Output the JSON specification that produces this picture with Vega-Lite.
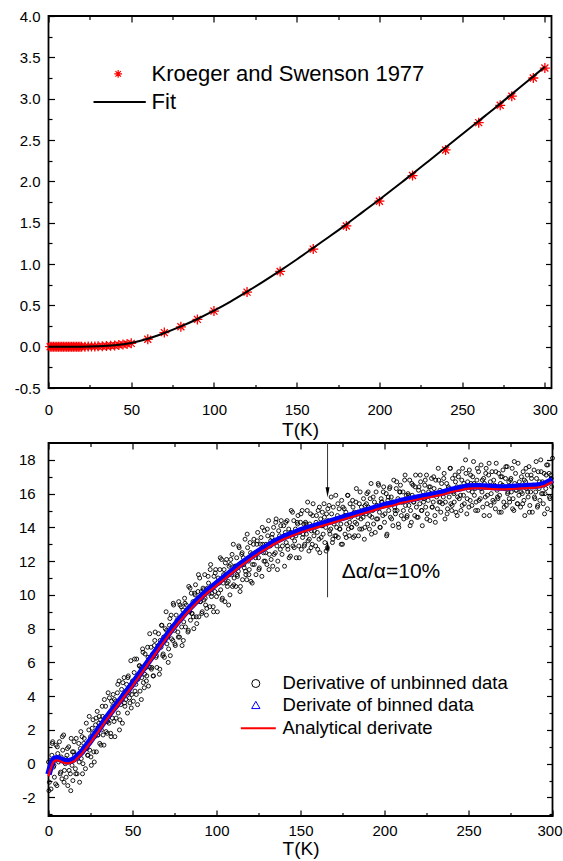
{
"$schema": "https://vega.github.io/schema/vega-lite/v6.json",
"background": "white",
"padding": {"left": 12.5, "top": 8, "right": 0, "bottom": 0},
"spacing": 0,
"config": {
 "font": "Liberation Sans",
 "view": {"stroke": "#000000", "strokeWidth": 1.8},
 "axis": {"domain": false, "grid": false, "labelFont": "Liberation Sans", "labelFontSize": 15, "labelColor": "#000000", "tickColor": "#000000", "tickWidth": 1.2, "titleFont": "Liberation Sans", "titleFontSize": 19, "titleFontWeight": "normal", "titleColor": "#000000", "labelFlush": false, "labelOverlap": false},
 "text": {"font": "Liberation Sans", "color": "#000000"}
},
"datasets": {
 "kroeger": [{"t":1,"v":0},{"t":2,"v":0},{"t":3,"v":0},{"t":4,"v":0},{"t":5,"v":0},{"t":6,"v":0},{"t":7,"v":0},{"t":8,"v":0},{"t":9,"v":0},{"t":10,"v":0},{"t":11,"v":0},{"t":12,"v":0},{"t":13,"v":0},{"t":14,"v":0},{"t":15,"v":0},{"t":16,"v":0},{"t":17,"v":0},{"t":18,"v":0},{"t":19,"v":0},{"t":20,"v":0},{"t":22,"v":0},{"t":24,"v":0.001},{"t":26,"v":0.002},{"t":28,"v":0.003},{"t":30,"v":0.004},{"t":32.5,"v":0.006},{"t":35,"v":0.008},{"t":37.5,"v":0.011},{"t":40,"v":0.015},{"t":42.5,"v":0.02},{"t":45,"v":0.026},{"t":47.5,"v":0.033},{"t":50,"v":0.04},{"t":60,"v":0.09},{"t":70,"v":0.17},{"t":80,"v":0.24},{"t":90,"v":0.33},{"t":100,"v":0.43},{"t":120,"v":0.66},{"t":140,"v":0.91},{"t":160,"v":1.18},{"t":180,"v":1.46},{"t":200,"v":1.76},{"t":220,"v":2.07},{"t":240,"v":2.38},{"t":260,"v":2.71},{"t":273,"v":2.92},{"t":280,"v":3.03},{"t":293,"v":3.25},{"t":300,"v":3.37}],
 "fit": [{"t":0,"f":0},{"t":10,"f":0},{"t":20,"f":0.0005},{"t":30,"f":0.004},{"t":40,"f":0.016},{"t":50,"f":0.045},{"t":60,"f":0.095},{"t":70,"f":0.165},{"t":80,"f":0.245},{"t":90,"f":0.335},{"t":100,"f":0.435},{"t":110,"f":0.545},{"t":120,"f":0.665},{"t":130,"f":0.79},{"t":140,"f":0.92},{"t":150,"f":1.055},{"t":160,"f":1.195},{"t":170,"f":1.335},{"t":180,"f":1.48},{"t":190,"f":1.63},{"t":200,"f":1.78},{"t":210,"f":1.935},{"t":220,"f":2.09},{"t":230,"f":2.25},{"t":240,"f":2.41},{"t":250,"f":2.57},{"t":260,"f":2.73},{"t":270,"f":2.89},{"t":280,"f":3.055},{"t":290,"f":3.22},{"t":300,"f":3.385}],
 "curve": [{"t":0,"a":-0.75,"b":-0.63},{"t":1,"a":-0.4,"b":-0.28},{"t":2,"a":-0.1,"b":0.02},{"t":3,"a":0.1,"b":0.22},{"t":4,"a":0.18,"b":0.3},{"t":5,"a":0.2,"b":0.32},{"t":6,"a":0.18,"b":0.3},{"t":8,"a":0.1,"b":0.22},{"t":10,"a":0.03,"b":0.15},{"t":12,"a":0.02,"b":0.14},{"t":14,"a":0.08,"b":0.2},{"t":16,"a":0.2,"b":0.32},{"t":18,"a":0.4,"b":0.52},{"t":20,"a":0.6,"b":0.72},{"t":22,"a":0.86,"b":0.98},{"t":25,"a":1.25,"b":1.37},{"t":30,"a":1.95,"b":2.07},{"t":35,"a":2.65,"b":2.77},{"t":40,"a":3.3,"b":3.42},{"t":45,"a":3.95,"b":4.07},{"t":50,"a":4.6,"b":4.72},{"t":55,"a":5.3,"b":5.42},{"t":60,"a":6.0,"b":6.12},{"t":65,"a":6.7,"b":6.82},{"t":70,"a":7.4,"b":7.52},{"t":75,"a":8.05,"b":8.17},{"t":80,"a":8.65,"b":8.77},{"t":85,"a":9.2,"b":9.32},{"t":90,"a":9.7,"b":9.82},{"t":95,"a":10.15,"b":10.27},{"t":100,"a":10.55,"b":10.67},{"t":105,"a":10.95,"b":11.07},{"t":110,"a":11.35,"b":11.47},{"t":115,"a":11.75,"b":11.87},{"t":120,"a":12.1,"b":12.22},{"t":125,"a":12.45,"b":12.57},{"t":130,"a":12.75,"b":12.87},{"t":135,"a":13.05,"b":13.17},{"t":140,"a":13.3,"b":13.42},{"t":145,"a":13.5,"b":13.62},{"t":150,"a":13.7,"b":13.82},{"t":155,"a":13.85,"b":13.97},{"t":160,"a":14.0,"b":14.12},{"t":165,"a":14.15,"b":14.27},{"t":170,"a":14.3,"b":14.42},{"t":175,"a":14.45,"b":14.57},{"t":180,"a":14.6,"b":14.72},{"t":185,"a":14.75,"b":14.87},{"t":190,"a":14.9,"b":15.02},{"t":195,"a":15.05,"b":15.17},{"t":200,"a":15.2,"b":15.32},{"t":205,"a":15.3,"b":15.42},{"t":210,"a":15.45,"b":15.57},{"t":215,"a":15.55,"b":15.67},{"t":220,"a":15.65,"b":15.77},{"t":225,"a":15.75,"b":15.87},{"t":230,"a":15.85,"b":15.97},{"t":235,"a":15.95,"b":16.07},{"t":240,"a":16.1,"b":16.22},{"t":245,"a":16.2,"b":16.32},{"t":250,"a":16.3,"b":16.42},{"t":255,"a":16.32,"b":16.44},{"t":260,"a":16.3,"b":16.42},{"t":265,"a":16.27,"b":16.39},{"t":270,"a":16.25,"b":16.37},{"t":275,"a":16.27,"b":16.39},{"t":280,"a":16.3,"b":16.42},{"t":285,"a":16.33,"b":16.45},{"t":290,"a":16.35,"b":16.47},{"t":295,"a":16.45,"b":16.57},{"t":300,"a":16.7,"b":16.82}],
 "unbinned": [{"t":0,"v":0.1},{"t":0.5,"v":-1.1},{"t":1,"v":-0.2},{"t":1.5,"v":-1.5},{"t":2,"v":0.5},{"t":2.5,"v":1.3},{"t":3,"v":-0.2},{"t":3.5,"v":-0.8},{"t":4,"v":0.3},{"t":4.5,"v":1.1},{"t":5,"v":-1.3},{"t":5.5,"v":0.6},{"t":6,"v":0.1},{"t":6.5,"v":1.3},{"t":7,"v":-0.6},{"t":7.5,"v":0.4},{"t":8,"v":-0.9},{"t":8.5,"v":0.8},{"t":9,"v":1.7},{"t":9.5,"v":-0.4},{"t":10,"v":0},{"t":10.5,"v":-0.8},{"t":11,"v":0.5},{"t":11.5,"v":-1.3},{"t":12,"v":1},{"t":12.5,"v":0.2},{"t":13,"v":-0.6},{"t":13.5,"v":1.5},{"t":14,"v":-0.1},{"t":14.5,"v":-1},{"t":15,"v":0.7},{"t":15.5,"v":0.5},{"t":16,"v":-0.3},{"t":16.5,"v":1.5},{"t":17,"v":-0.6},{"t":17.5,"v":0.5},{"t":18,"v":1.2},{"t":18.5,"v":-1.1},{"t":19,"v":0.9},{"t":19.5,"v":0.3},{"t":20,"v":1.6},{"t":20.5,"v":0},{"t":21,"v":1.2},{"t":21.5,"v":1},{"t":22,"v":-0.3},{"t":22.5,"v":2.4},{"t":23,"v":0.9},{"t":23.5,"v":0.5},{"t":24,"v":2},{"t":24.5,"v":0.8},{"t":25,"v":1.6},{"t":25.5,"v":-0.1},{"t":26,"v":2.1},{"t":26.5,"v":2.6},{"t":27,"v":0.7},{"t":27.5,"v":1.6},{"t":28,"v":2.3},{"t":28.5,"v":0.7},{"t":29,"v":3.1},{"t":29.5,"v":1.7},{"t":30,"v":2.4},{"t":30.5,"v":1.2},{"t":31,"v":2.6},{"t":31.5,"v":2.0},{"t":32,"v":3.4},{"t":32.5,"v":1.7},{"t":33,"v":1.1},{"t":33.5,"v":2.7},{"t":34,"v":3.4},{"t":34.5,"v":2.5},{"t":35,"v":1.8},{"t":35.5,"v":4.2},{"t":36,"v":2.4},{"t":36.5,"v":3.0},{"t":37,"v":1.8},{"t":37.5,"v":3.7},{"t":38,"v":2.7},{"t":38.5,"v":4.1},{"t":39,"v":2.5},{"t":39.5,"v":1.6},{"t":40,"v":3.7},{"t":40.5,"v":3.4},{"t":41,"v":4.2},{"t":41.5,"v":3.0},{"t":42,"v":4.9},{"t":42.5,"v":2.6},{"t":43,"v":3.5},{"t":43.5,"v":4.4},{"t":44,"v":2.4},{"t":44.5,"v":4.1},{"t":45,"v":5.1},{"t":45.5,"v":3.4},{"t":46,"v":3.8},{"t":46.5,"v":4.7},{"t":47,"v":3.0},{"t":47.5,"v":5.2},{"t":48,"v":4.2},{"t":48.5,"v":3.6},{"t":49,"v":6.1},{"t":49.5,"v":4.1},{"t":50,"v":4.9},{"t":50.5,"v":3.7},{"t":51,"v":5.4},{"t":51.5,"v":4.3},{"t":52,"v":4.7},{"t":52.5,"v":6.2},{"t":53,"v":3.5},{"t":53.5,"v":5.2},{"t":54,"v":5.8},{"t":54.5,"v":4.3},{"t":55,"v":5.7},{"t":55.5,"v":5.1},{"t":56,"v":6.8},{"t":56.5,"v":4.8},{"t":57,"v":4.5},{"t":57.5,"v":6.5},{"t":58,"v":5.7},{"t":58.5,"v":5.2},{"t":59,"v":6.9},{"t":59.5,"v":4.6},{"t":60,"v":6.2},{"t":60.5,"v":5.7},{"t":61,"v":6.9},{"t":61.5,"v":5.7},{"t":62,"v":6.5},{"t":62.5,"v":5.2},{"t":63,"v":7.0},{"t":63.5,"v":7.8},{"t":64,"v":6.3},{"t":64.5,"v":5.7},{"t":65,"v":6.8},{"t":65.5,"v":7.7},{"t":66,"v":5.3},{"t":66.5,"v":7.3},{"t":67,"v":6.9},{"t":67.5,"v":8.2},{"t":68,"v":6.4},{"t":68.5,"v":7.5},{"t":69,"v":6.3},{"t":69.5,"v":8.0},{"t":70,"v":9.0},{"t":70.5,"v":7.1},{"t":71,"v":7.5},{"t":71.5,"v":6.8},{"t":72,"v":8.2},{"t":72.5,"v":6.4},{"t":73,"v":8.8},{"t":73.5,"v":8.1},{"t":74,"v":7.3},{"t":74.5,"v":9.4},{"t":75,"v":7.9},{"t":75.5,"v":7.0},{"t":76,"v":8.8},{"t":76.5,"v":8.5},{"t":77,"v":7.8},{"t":77.5,"v":9.6},{"t":78,"v":7.5},{"t":78.5,"v":8.6},{"t":79,"v":9.3},{"t":79.5,"v":7.0},{"t":80,"v":9.1},{"t":80.5,"v":8.4},{"t":81,"v":9.8},{"t":81.5,"v":8.1},{"t":82,"v":9.4},{"t":82.5,"v":9.1},{"t":83,"v":7.8},{"t":83.5,"v":10.5},{"t":84,"v":9.0},{"t":84.5,"v":8.5},{"t":85,"v":10.1},{"t":85.5,"v":8.9},{"t":86,"v":9.6},{"t":86.5,"v":8.0},{"t":87,"v":10.1},{"t":87.5,"v":10.6},{"t":88,"v":8.7},{"t":88.5,"v":9.6},{"t":89,"v":10.2},{"t":89.5,"v":8.7},{"t":90,"v":11.0},{"t":90.5,"v":9.6},{"t":91,"v":10.2},{"t":91.5,"v":9.0},{"t":92,"v":10.4},{"t":92.5,"v":9.7},{"t":93,"v":11.2},{"t":93.5,"v":9.4},{"t":94,"v":8.8},{"t":94.5,"v":10.4},{"t":95,"v":11.1},{"t":95.5,"v":10.1},{"t":96,"v":9.3},{"t":96.5,"v":11.8},{"t":97,"v":9.9},{"t":97.5,"v":10.5},{"t":98,"v":9.3},{"t":98.5,"v":11.1},{"t":99,"v":10.2},{"t":99.5,"v":11.5},{"t":100,"v":9.9},{"t":100.5,"v":9.0},{"t":101,"v":11.0},{"t":101.5,"v":10.7},{"t":102,"v":11.5},{"t":102.5,"v":10.3},{"t":103,"v":12.1},{"t":103.5,"v":9.8},{"t":104,"v":10.7},{"t":104.5,"v":11.5},{"t":105,"v":9.6},{"t":105.5,"v":11.2},{"t":106,"v":12.1},{"t":106.5,"v":10.5},{"t":107,"v":10.8},{"t":107.5,"v":11.7},{"t":108,"v":10.0},{"t":108.5,"v":12.1},{"t":109,"v":11.2},{"t":109.5,"v":10.5},{"t":110,"v":13.0},{"t":110.5,"v":11.0},{"t":111,"v":11.7},{"t":111.5,"v":10.5},{"t":112,"v":12.2},{"t":112.5,"v":11.1},{"t":113,"v":11.4},{"t":113.5,"v":12.8},{"t":114,"v":10.2},{"t":114.5,"v":11.8},{"t":115,"v":12.4},{"t":115.5,"v":10.9},{"t":116,"v":12.2},{"t":116.5,"v":11.6},{"t":117,"v":13.3},{"t":117.5,"v":11.2},{"t":118,"v":10.9},{"t":118.5,"v":12.8},{"t":119,"v":12.0},{"t":119.5,"v":11.5},{"t":120,"v":13.1},{"t":120.5,"v":10.8},{"t":121,"v":12.4},{"t":121.5,"v":11.8},{"t":122,"v":13.0},{"t":122.5,"v":11.8},{"t":123,"v":12.5},{"t":123.5,"v":11.2},{"t":124,"v":13.0},{"t":124.5,"v":13.7},{"t":125,"v":12.2},{"t":125.5,"v":11.6},{"t":126,"v":12.6},{"t":126.5,"v":13.4},{"t":127,"v":11.1},{"t":127.5,"v":13.0},{"t":128,"v":12.5},{"t":128.5,"v":13.8},{"t":129,"v":12.0},{"t":129.5,"v":13.0},{"t":130,"v":11.8},{"t":130.5,"v":13.5},{"t":131,"v":14.4},{"t":131.5,"v":12.4},{"t":132,"v":12.9},{"t":132.5,"v":12.1},{"t":133,"v":13.4},{"t":133.5,"v":11.7},{"t":134,"v":14.0},{"t":134.5,"v":13.2},{"t":135,"v":12.5},{"t":135.5,"v":14.5},{"t":136,"v":12.9},{"t":136.5,"v":12.0},{"t":137,"v":13.8},{"t":137.5,"v":13.5},{"t":138,"v":12.7},{"t":138.5,"v":14.4},{"t":139,"v":12.4},{"t":139.5,"v":13.4},{"t":140,"v":14.1},{"t":140.5,"v":11.7},{"t":141,"v":13.7},{"t":141.5,"v":13.1},{"t":142,"v":14.4},{"t":142.5,"v":12.7},{"t":143,"v":13.9},{"t":143.5,"v":13.6},{"t":144,"v":12.3},{"t":144.5,"v":15.0},{"t":145,"v":13.4},{"t":145.5,"v":12.9},{"t":146,"v":14.4},{"t":146.5,"v":13.2},{"t":147,"v":13.9},{"t":147.5,"v":12.2},{"t":148,"v":14.3},{"t":148.5,"v":14.7},{"t":149,"v":12.9},{"t":149.5,"v":13.7},{"t":150,"v":14.3},{"t":150.5,"v":12.7},{"t":151,"v":15.0},{"t":151.5,"v":13.6},{"t":152,"v":14.2},{"t":152.5,"v":13.0},{"t":153,"v":14.3},{"t":153.5,"v":13.6},{"t":154,"v":15.0},{"t":154.5,"v":13.2},{"t":155,"v":12.6},{"t":155.5,"v":14.2},{"t":156,"v":14.8},{"t":156.5,"v":13.8},{"t":157,"v":13.0},{"t":157.5,"v":15.4},{"t":158,"v":13.5},{"t":158.5,"v":14.1},{"t":159,"v":12.9},{"t":159.5,"v":14.7},{"t":160,"v":13.7},{"t":160.5,"v":15.0},{"t":161,"v":13.3},{"t":161.5,"v":12.5},{"t":162,"v":14.5},{"t":162.5,"v":14.1},{"t":163,"v":14.9},{"t":163.5,"v":13.6},{"t":164,"v":15.4},{"t":164.5,"v":13.1},{"t":165,"v":14.0},{"t":165.5,"v":14.8},{"t":166,"v":12.8},{"t":166.5,"v":14.4},{"t":167,"v":15.3},{"t":167.5,"v":13.6},{"t":168,"v":13.9},{"t":168.5,"v":14.8},{"t":169,"v":13.1},{"t":169.5,"v":15.2},{"t":170,"v":14.2},{"t":170.5,"v":13.5},{"t":171,"v":15.9},{"t":171.5,"v":14.0},{"t":172,"v":14.7},{"t":172.5,"v":13.4},{"t":173,"v":15.1},{"t":173.5,"v":13.9},{"t":174,"v":14.2},{"t":174.5,"v":15.6},{"t":175,"v":13.0},{"t":175.5,"v":14.6},{"t":176,"v":15.1},{"t":176.5,"v":13.6},{"t":177,"v":14.9},{"t":177.5,"v":14.2},{"t":178,"v":15.9},{"t":178.5,"v":13.9},{"t":179,"v":13.5},{"t":179.5,"v":15.4},{"t":180,"v":14.6},{"t":180.5,"v":14.0},{"t":181,"v":15.6},{"t":181.5,"v":13.4},{"t":182,"v":14.9},{"t":182.5,"v":14.3},{"t":183,"v":15.5},{"t":183.5,"v":14.2},{"t":184,"v":14.9},{"t":184.5,"v":13.5},{"t":185,"v":15.4},{"t":185.5,"v":16.1},{"t":186,"v":14.5},{"t":186.5,"v":13.9},{"t":187,"v":14.9},{"t":187.5,"v":15.7},{"t":188,"v":13.3},{"t":188.5,"v":15.3},{"t":189,"v":14.8},{"t":189.5,"v":16.0},{"t":190,"v":14.2},{"t":190.5,"v":15.2},{"t":191,"v":13.9},{"t":191.5,"v":15.7},{"t":192,"v":16.6},{"t":192.5,"v":14.6},{"t":193,"v":15.0},{"t":193.5,"v":14.2},{"t":194,"v":15.5},{"t":194.5,"v":13.7},{"t":195,"v":16.1},{"t":195.5,"v":15.3},{"t":196,"v":14.5},{"t":196.5,"v":16.5},{"t":197,"v":14.9},{"t":197.5,"v":14.0},{"t":198,"v":15.7},{"t":198.5,"v":15.5},{"t":199,"v":14.7},{"t":199.5,"v":16.4},{"t":200,"v":14.3},{"t":200.5,"v":15.3},{"t":201,"v":16.0},{"t":201.5,"v":13.6},{"t":202,"v":15.6},{"t":202.5,"v":15.0},{"t":203,"v":16.3},{"t":203.5,"v":14.6},{"t":204,"v":15.8},{"t":204.5,"v":15.5},{"t":205,"v":14.1},{"t":205.5,"v":16.8},{"t":206,"v":15.2},{"t":206.5,"v":14.8},{"t":207,"v":16.3},{"t":207.5,"v":15.0},{"t":208,"v":15.7},{"t":208.5,"v":14.0},{"t":209,"v":16.1},{"t":209.5,"v":16.5},{"t":210,"v":14.7},{"t":210.5,"v":15.5},{"t":211,"v":16.1},{"t":211.5,"v":14.5},{"t":212,"v":16.8},{"t":212.5,"v":15.3},{"t":213,"v":15.9},{"t":213.5,"v":14.7},{"t":214,"v":16.0},{"t":214.5,"v":15.3},{"t":215,"v":16.8},{"t":215.5,"v":15.0},{"t":216,"v":14.3},{"t":216.5,"v":15.9},{"t":217,"v":16.5},{"t":217.5,"v":15.5},{"t":218,"v":14.7},{"t":218.5,"v":17.1},{"t":219,"v":15.2},{"t":219.5,"v":15.7},{"t":220,"v":14.6},{"t":220.5,"v":16.4},{"t":221,"v":15.4},{"t":221.5,"v":16.7},{"t":222,"v":15.0},{"t":222.5,"v":14.1},{"t":223,"v":16.1},{"t":223.5,"v":15.7},{"t":224,"v":16.5},{"t":224.5,"v":15.2},{"t":225,"v":17.1},{"t":225.5,"v":14.8},{"t":226,"v":15.6},{"t":226.5,"v":16.4},{"t":227,"v":14.4},{"t":227.5,"v":16.0},{"t":228,"v":16.9},{"t":228.5,"v":15.2},{"t":229,"v":15.5},{"t":229.5,"v":16.3},{"t":230,"v":14.7},{"t":230.5,"v":16.8},{"t":231,"v":15.8},{"t":231.5,"v":15.1},{"t":232,"v":17.5},{"t":232.5,"v":15.5},{"t":233,"v":16.2},{"t":233.5,"v":14.9},{"t":234,"v":16.6},{"t":234.5,"v":15.4},{"t":235,"v":15.8},{"t":235.5,"v":17.2},{"t":236,"v":14.5},{"t":236.5,"v":16.1},{"t":237,"v":16.6},{"t":237.5,"v":15.1},{"t":238,"v":16.4},{"t":238.5,"v":15.8},{"t":239,"v":17.5},{"t":239.5,"v":15.4},{"t":240,"v":15.0},{"t":240.5,"v":16.9},{"t":241,"v":16.1},{"t":241.5,"v":15.5},{"t":242,"v":17.1},{"t":242.5,"v":14.9},{"t":243,"v":16.4},{"t":243.5,"v":15.8},{"t":244,"v":17.0},{"t":244.5,"v":15.7},{"t":245,"v":16.4},{"t":245.5,"v":15.0},{"t":246,"v":16.8},{"t":246.5,"v":17.5},{"t":247,"v":15.9},{"t":247.5,"v":15.4},{"t":248,"v":16.4},{"t":248.5,"v":17.2},{"t":249,"v":14.8},{"t":249.5,"v":16.7},{"t":250,"v":16.2},{"t":250.5,"v":17.4},{"t":251,"v":15.6},{"t":251.5,"v":16.6},{"t":252,"v":15.3},{"t":252.5,"v":17.0},{"t":253,"v":17.9},{"t":253.5,"v":15.9},{"t":254,"v":16.3},{"t":254.5,"v":15.5},{"t":255,"v":16.8},{"t":255.5,"v":15.0},{"t":256,"v":17.3},{"t":256.5,"v":16.5},{"t":257,"v":15.7},{"t":257.5,"v":17.7},{"t":258,"v":16.1},{"t":258.5,"v":15.2},{"t":259,"v":16.9},{"t":259.5,"v":16.6},{"t":260,"v":15.8},{"t":260.5,"v":17.5},{"t":261,"v":15.4},{"t":261.5,"v":16.4},{"t":262,"v":17.1},{"t":262.5,"v":14.7},{"t":263,"v":16.7},{"t":263.5,"v":16.0},{"t":264,"v":17.3},{"t":264.5,"v":15.6},{"t":265,"v":16.8},{"t":265.5,"v":16.5},{"t":266,"v":15.1},{"t":266.5,"v":17.8},{"t":267,"v":16.2},{"t":267.5,"v":15.7},{"t":268,"v":17.2},{"t":268.5,"v":15.9},{"t":269,"v":16.6},{"t":269.5,"v":14.9},{"t":270,"v":17.0},{"t":270.5,"v":17.4},{"t":271,"v":15.5},{"t":271.5,"v":16.3},{"t":272,"v":16.9},{"t":272.5,"v":15.3},{"t":273,"v":17.6},{"t":273.5,"v":16.1},{"t":274,"v":16.7},{"t":274.5,"v":15.5},{"t":275,"v":16.8},{"t":275.5,"v":16.1},{"t":276,"v":17.5},{"t":276.5,"v":15.7},{"t":277,"v":15.0},{"t":277.5,"v":16.6},{"t":278,"v":17.2},{"t":278.5,"v":16.2},{"t":279,"v":15.4},{"t":279.5,"v":17.8},{"t":280,"v":15.9},{"t":280.5,"v":16.4},{"t":281,"v":15.2},{"t":281.5,"v":17.0},{"t":282,"v":16.0},{"t":282.5,"v":17.3},{"t":283,"v":15.6},{"t":283.5,"v":14.7},{"t":284,"v":16.7},{"t":284.5,"v":16.3},{"t":285,"v":17.1},{"t":285.5,"v":15.8},{"t":286,"v":17.6},{"t":286.5,"v":15.3},{"t":287,"v":16.1},{"t":287.5,"v":16.9},{"t":288,"v":14.9},{"t":288.5,"v":16.5},{"t":289,"v":17.4},{"t":289.5,"v":15.7},{"t":290,"v":16.1},{"t":290.5,"v":16.9},{"t":291,"v":15.2},{"t":291.5,"v":17.3},{"t":292,"v":16.3},{"t":292.5,"v":15.6},{"t":293,"v":18.0},{"t":293.5,"v":16.0},{"t":294,"v":16.7},{"t":294.5,"v":15.4},{"t":295,"v":17.2},{"t":295.5,"v":16.0},{"t":296,"v":16.3},{"t":296.5,"v":17.7},{"t":297,"v":15.1},{"t":297.5,"v":16.7},{"t":298,"v":17.2},{"t":298.5,"v":15.7},{"t":299,"v":17.1},{"t":299.5,"v":16.4},{"t":300,"v":18.1},
{"t":0.25,"v":-1.6},{"t":1.25,"v":0.2},{"t":2.25,"v":1.2},{"t":3.25,"v":-0.1},{"t":4.25,"v":-1.2},{"t":5.25,"v":1.0},{"t":6.25,"v":0.3},{"t":7.25,"v":-0.5},{"t":8.25,"v":1.6},{"t":9.25,"v":-1.1},{"t":10.25,"v":0.3},{"t":11.25,"v":0.9},{"t":12.25,"v":-0.4},{"t":13.25,"v":-1.6},{"t":14.25,"v":0.7},{"t":15.25,"v":1.3},{"t":16.25,"v":-0.6},{"t":17.25,"v":0.5},{"t":18.25,"v":0.1},{"t":19.25,"v":1.9},{"t":20.25,"v":-0.6},{"t":21.25,"v":1.5},{"t":22.25,"v":0.9},{"t":23.25,"v":0.5},{"t":24.25,"v":2.8},{"t":25.25,"v":0.4},{"t":26.25,"v":1.8},{"t":27.25,"v":0.1},{"t":28.25,"v":2.7},{"t":29.25,"v":1.7},{"t":30.25,"v":2.8},{"t":31.25,"v":1.1},{"t":32.25,"v":2.8},{"t":33.25,"v":3.8},{"t":34.25,"v":1.9},{"t":35.25,"v":2.5},{"t":36.25,"v":3.9},{"t":37.25,"v":1.6},{"t":38.25,"v":3.4},{"t":39.25,"v":3.8},{"t":40.25,"v":2.7},{"t":41.25,"v":4.7},{"t":42.25,"v":2.0},{"t":43.25,"v":3.8},{"t":44.25,"v":4.8},{"t":45.25,"v":3.6},{"t":46.25,"v":4.3},{"t":47.25,"v":5.1},{"t":48.25,"v":3.9},{"t":49.25,"v":3.3},{"t":50.25,"v":4.8},{"t":51.25,"v":6.2},{"t":52.25,"v":4.1},{"t":53.25,"v":5.0},{"t":54.25,"v":5.8},{"t":55.25,"v":3.8},{"t":56.25,"v":6.6},{"t":57.25,"v":5.3},{"t":58.25,"v":4.9},{"t":59.25,"v":6.3},{"t":60.25,"v":7.7},{"t":61.25,"v":5.6},{"t":62.25,"v":5.2},{"t":63.25,"v":7.3},{"t":64.25,"v":6.4},{"t":65.25,"v":7.0},{"t":66.25,"v":5.6},{"t":67.25,"v":8.2},{"t":68.25,"v":6.5},{"t":69.25,"v":7.3},{"t":70.25,"v":7.9},{"t":71.25,"v":6.0},{"t":72.25,"v":8.6},{"t":73.25,"v":7.4},{"t":74.25,"v":9.5},{"t":75.25,"v":7.1},{"t":76.25,"v":8.3},{"t":77.25,"v":7.5},{"t":78.25,"v":9.4},{"t":79.25,"v":8.1},{"t":80.25,"v":7.3},{"t":81.25,"v":9.5},{"t":82.25,"v":9.1},{"t":83.25,"v":7.9},{"t":84.25,"v":10.4},{"t":85.25,"v":8.9},{"t":86.25,"v":8.7},{"t":87.25,"v":10.0},{"t":88.25,"v":8.3},{"t":89.25,"v":11.2},{"t":90.25,"v":9.6},{"t":91.25,"v":8.9},{"t":92.25,"v":10.3},{"t":93.25,"v":9.8},{"t":94.25,"v":9.2},{"t":95.25,"v":10.7},{"t":96.25,"v":11.5},{"t":97.25,"v":10.1},{"t":98.25,"v":9.0},{"t":99.25,"v":11.3},{"t":100.25,"v":10.7},{"t":101.25,"v":10.1},{"t":102.25,"v":12.2},{"t":103.25,"v":9.7},{"t":104.25,"v":11.2},{"t":105.25,"v":11.9},{"t":106.25,"v":10.7},{"t":107.25,"v":9.4},{"t":108.25,"v":11.8},{"t":109.25,"v":12.4},{"t":110.25,"v":10.6},{"t":111.25,"v":11.7},{"t":112.25,"v":11.2},{"t":113.25,"v":12.9},{"t":114.25,"v":10.5},{"t":115.25,"v":12.5},{"t":116.25,"v":11.8},{"t":117.25,"v":11.4},{"t":118.25,"v":13.6},{"t":119.25,"v":11.2},{"t":120.25,"v":12.5},{"t":121.25,"v":10.7},{"t":122.25,"v":13.3},{"t":123.25,"v":12.2},{"t":124.25,"v":13.2},{"t":125.25,"v":11.5},{"t":126.25,"v":13.0},{"t":127.25,"v":14.0},{"t":128.25,"v":12.0},{"t":129.25,"v":12.5},{"t":130.25,"v":13.9},{"t":131.25,"v":11.5},{"t":132.25,"v":13.2},{"t":133.25,"v":13.6},{"t":134.25,"v":12.4},{"t":135.25,"v":14.3},{"t":136.25,"v":11.5},{"t":137.25,"v":13.3},{"t":138.25,"v":14.1},{"t":139.25,"v":12.9},{"t":140.25,"v":13.5},{"t":141.25,"v":14.3},{"t":142.25,"v":12.9},{"t":143.25,"v":12.2},{"t":144.25,"v":13.7},{"t":145.25,"v":14.9},{"t":146.25,"v":12.8},{"t":147.25,"v":13.5},{"t":148.25,"v":14.2},{"t":149.25,"v":12.2},{"t":150.25,"v":14.8},{"t":151.25,"v":13.4},{"t":152.25,"v":12.9},{"t":153.25,"v":14.2},{"t":154.25,"v":15.5},{"t":155.25,"v":13.3},{"t":156.25,"v":12.8},{"t":157.25,"v":14.7},{"t":158.25,"v":13.8},{"t":159.25,"v":14.3},{"t":160.25,"v":12.7},{"t":161.25,"v":15.2},{"t":162.25,"v":13.4},{"t":163.25,"v":14.1},{"t":164.25,"v":14.6},{"t":165.25,"v":12.6},{"t":166.25,"v":15.1},{"t":167.25,"v":13.8},{"t":168.25,"v":15.8},{"t":169.25,"v":13.3},{"t":170.25,"v":14.4},{"t":171.25,"v":13.5},{"t":172.25,"v":15.4},{"t":173.25,"v":13.9},{"t":174.25,"v":13.0},{"t":175.25,"v":15.2},{"t":176.25,"v":14.7},{"t":177.25,"v":13.4},{"t":178.25,"v":15.9},{"t":179.25,"v":14.3},{"t":180.25,"v":14.0},{"t":181.25,"v":15.2},{"t":182.25,"v":13.5},{"t":183.25,"v":16.3},{"t":184.25,"v":14.6},{"t":185.25,"v":13.9},{"t":186.25,"v":15.2},{"t":187.25,"v":14.6},{"t":188.25,"v":14.0},{"t":189.25,"v":15.4},{"t":190.25,"v":16.1},{"t":191.25,"v":14.7},{"t":192.25,"v":13.6},{"t":193.25,"v":15.8},{"t":194.25,"v":15.1},{"t":195.25,"v":14.5},{"t":196.25,"v":16.6},{"t":197.25,"v":14.0},{"t":198.25,"v":15.5},{"t":199.25,"v":16.1},{"t":200.25,"v":14.8},{"t":201.25,"v":13.5},{"t":202.25,"v":15.8},{"t":203.25,"v":16.4},{"t":204.25,"v":14.5},{"t":205.25,"v":15.5},{"t":206.25,"v":15.0},{"t":207.25,"v":16.7},{"t":208.25,"v":14.2},{"t":209.25,"v":16.1},{"t":210.25,"v":15.5},{"t":211.25,"v":15.0},{"t":212.25,"v":17.1},{"t":213.25,"v":14.6},{"t":214.25,"v":15.9},{"t":215.25,"v":14.1},{"t":216.25,"v":16.6},{"t":217.25,"v":15.5},{"t":218.25,"v":16.4},{"t":219.25,"v":14.6},{"t":220.25,"v":16.2},{"t":221.25,"v":17.1},{"t":222.25,"v":15.0},{"t":223.25,"v":15.5},{"t":224.25,"v":16.8},{"t":225.25,"v":14.5},{"t":226.25,"v":16.1},{"t":227.25,"v":16.4},{"t":228.25,"v":15.2},{"t":229.25,"v":17.0},{"t":230.25,"v":14.3},{"t":231.25,"v":16.0},{"t":232.25,"v":16.8},{"t":233.25,"v":15.5},{"t":234.25,"v":16.1},{"t":235.25,"v":16.9},{"t":236.25,"v":15.5},{"t":237.25,"v":14.8},{"t":238.25,"v":16.3},{"t":239.25,"v":17.5},{"t":240.25,"v":15.3},{"t":241.25,"v":16.0},{"t":242.25,"v":16.7},{"t":243.25,"v":14.7},{"t":244.25,"v":17.3},{"t":245.25,"v":15.9},{"t":246.25,"v":15.3},{"t":247.25,"v":16.6},{"t":248.25,"v":18.0},{"t":249.25,"v":15.7},{"t":250.25,"v":15.2},{"t":251.25,"v":17.1},{"t":252.25,"v":16.1},{"t":253.25,"v":16.6},{"t":254.25,"v":15.0},{"t":255.25,"v":17.5},{"t":256.25,"v":15.6},{"t":257.25,"v":16.3},{"t":258.25,"v":16.8},{"t":259.25,"v":14.7},{"t":260.25,"v":17.2},{"t":261.25,"v":15.9},{"t":262.25,"v":17.8},{"t":263.25,"v":15.3},{"t":264.25,"v":16.4},{"t":265.25,"v":15.5},{"t":266.25,"v":17.3},{"t":267.25,"v":15.8},{"t":268.25,"v":14.9},{"t":269.25,"v":17.0},{"t":270.25,"v":16.5},{"t":271.25,"v":15.2},{"t":272.25,"v":17.6},{"t":273.25,"v":16.0},{"t":274.25,"v":15.7},{"t":275.25,"v":16.9},{"t":276.25,"v":15.1},{"t":277.25,"v":17.9},{"t":278.25,"v":16.2},{"t":279.25,"v":15.4},{"t":280.25,"v":16.7},{"t":281.25,"v":16.1},{"t":282.25,"v":15.4},{"t":283.25,"v":16.8},{"t":284.25,"v":17.5},{"t":285.25,"v":16.1},{"t":286.25,"v":14.9},{"t":287.25,"v":17.1},{"t":288.25,"v":16.4},{"t":289.25,"v":15.8},{"t":290.25,"v":17.9},{"t":291.25,"v":15.3},{"t":292.25,"v":16.7},{"t":293.25,"v":17.3},{"t":294.25,"v":16.0},{"t":295.25,"v":14.8},{"t":296.25,"v":17.1},{"t":297.25,"v":17.7},{"t":298.25,"v":15.8},{"t":299.25,"v":16.9}]
},
"vconcat": [
 {
  "width": 503, "height": 372,
  "resolve": {"axis": {"x": "independent", "y": "independent"}},
  "layer": [
   {"data": {"name": "kroeger"},
    "mark": {"type": "point", "shape": "M-1,0L1,0M0,-1L0,1M-0.7,-0.7L0.7,0.7M-0.7,0.7L0.7,-0.7", "filled": false, "color": "#ff0000", "strokeWidth": 1.3, "size": 100, "opacity": 1},
    "encoding": {
     "x": {"field": "t", "type": "quantitative", "scale": {"domain": [0, 304], "nice": false, "zero": false}, "axis": {"orient": "bottom", "values": [0,50,100,150,200,250,300], "tickSize": -6, "labelPadding": 20, "title": "T(K)", "titleY": 32.5}},
     "y": {"field": "v", "type": "quantitative", "scale": {"domain": [-0.5, 4.0], "nice": false, "zero": false}, "axis": {"orient": "left", "values": [-0.5,0,0.5,1,1.5,2,2.5,3,3.5,4], "format": ".1f", "labelExpr": "replace(datum.label, '\u2212', '-')", "tickSize": -6, "labelPadding": 14.4, "title": null}}
    }},
   {"data": {"name": "fit"},
    "mark": {"type": "line", "color": "#000000", "strokeWidth": 2, "interpolate": "monotone"},
    "encoding": {
     "x": {"field": "t", "type": "quantitative", "scale": {"domain": [0, 304], "nice": false, "zero": false}, "axis": {"orient": "top", "values": [0,50,100,150,200,250,300], "tickSize": -6, "labels": false, "title": null}},
     "y": {"field": "f", "type": "quantitative", "scale": {"domain": [-0.5, 4.0], "nice": false, "zero": false}, "axis": {"orient": "right", "values": [-0.5,0,0.5,1,1.5,2,2.5,3,3.5,4], "tickSize": -6, "labels": false, "title": null}}
    }},
   {"data": {"values": [{}]},
    "mark": {"type": "point", "shape": "M-1,0L1,0M0,-1L0,1M-0.7,-0.7L0.7,0.7M-0.7,0.7L0.7,-0.7", "filled": false, "color": "#ff0000", "strokeWidth": 1.2, "size": 60, "opacity": 1},
    "encoding": {
     "x": {"datum": 42.1, "type": "quantitative", "axis": {"orient": "bottom", "values": [25,75,125,175,225,275], "tickSize": -3.5, "labels": false, "title": null}},
     "y": {"datum": 3.3, "type": "quantitative", "axis": {"orient": "left", "values": [-0.25,0.25,0.75,1.25,1.75,2.25,2.75,3.25,3.75], "tickSize": -3.5, "labels": false, "title": null}}
    }},
   {"data": {"values": [{}]},
    "mark": {"type": "rule", "color": "#000000", "strokeWidth": 2},
    "encoding": {
     "x": {"datum": 27.2, "type": "quantitative", "axis": {"orient": "top", "values": [25,75,125,175,225,275], "tickSize": -3.5, "labels": false, "title": null}},
     "x2": {"datum": 58.8},
     "y": {"datum": 2.96, "type": "quantitative", "axis": {"orient": "right", "values": [-0.25,0.25,0.75,1.25,1.75,2.25,2.75,3.25,3.75], "tickSize": -3.5, "labels": false, "title": null}}
    }},
   {"data": {"values": [{}]},
    "mark": {"type": "text", "align": "left", "baseline": "middle", "fontSize": 22, "font": "Liberation Sans", "color": "#000000"},
    "encoding": {
     "x": {"datum": 62.3, "type": "quantitative", "axis": null},
     "y": {"datum": 3.3, "type": "quantitative", "axis": null},
     "text": {"value": "Kroeger and Swenson 1977"}
    }},
   {"data": {"values": [{}]},
    "mark": {"type": "text", "align": "left", "baseline": "middle", "fontSize": 22, "font": "Liberation Sans", "color": "#000000"},
    "encoding": {
     "x": {"datum": 62.3, "type": "quantitative", "axis": null},
     "y": {"datum": 2.96, "type": "quantitative", "axis": null},
     "text": {"value": "Fit"}
    }}
  ]
 },
 {
  "width": 504, "height": 373,
  "resolve": {"axis": {"x": "independent", "y": "independent"}},
  "layer": [
   {"data": {"name": "unbinned"},
    "mark": {"type": "point", "shape": "circle", "filled": false, "color": "#000000", "strokeWidth": 0.9, "size": 16, "opacity": 1},
    "encoding": {
     "x": {"field": "t", "type": "quantitative", "scale": {"domain": [0, 300], "nice": false, "zero": false}, "axis": {"orient": "bottom", "values": [0,50,100,150,200,250,300], "tickSize": -6, "labelPadding": 13.3, "labelOffset": {"condition": {"test": "datum.value === 300", "value": -3}, "value": 0}, "title": "T(K)", "titleY": 23.7}},
     "y": {"field": "v", "type": "quantitative", "scale": {"domain": [-3.1, 19], "nice": false, "zero": false}, "axis": {"orient": "left", "values": [-2,0,2,4,6,8,10,12,14,16,18], "format": "d", "labelExpr": "replace(datum.label, '\u2212', '-')", "tickSize": -6, "labelPadding": 19.4, "title": null}}
    }},
   {"data": {"name": "curve"},
    "mark": {"type": "line", "color": "#0000ff", "strokeWidth": 6.5, "interpolate": "monotone"},
    "encoding": {
     "x": {"field": "t", "type": "quantitative", "scale": {"domain": [0, 300], "nice": false, "zero": false}, "axis": {"orient": "top", "values": [0,50,100,150,200,250,300], "tickSize": -6, "labels": false, "title": null}},
     "y": {"field": "b", "type": "quantitative", "scale": {"domain": [-3.1, 19], "nice": false, "zero": false}, "axis": {"orient": "right", "values": [-2,0,2,4,6,8,10,12,14,16,18], "tickSize": -6, "labels": false, "title": null}}
    }},
   {"data": {"name": "curve"},
    "mark": {"type": "line", "color": "#ff0000", "strokeWidth": 2.2, "interpolate": "monotone"},
    "encoding": {
     "x": {"field": "t", "type": "quantitative", "axis": {"orient": "bottom", "values": [25,75,125,175,225,275], "tickSize": -3.5, "labels": false, "title": null}},
     "y": {"field": "a", "type": "quantitative", "axis": {"orient": "left", "values": [-3,-1,1,3,5,7,9,11,13,15,17], "tickSize": -3.5, "labels": false, "title": null}}
    }},
   {"data": {"values": [{}]},
    "mark": {"type": "rule", "color": "#333333", "strokeWidth": 1},
    "encoding": {
     "x": {"datum": 166.1, "type": "quantitative", "axis": {"orient": "top", "values": [25,75,125,175,225,275], "tickSize": -3.5, "labels": false, "title": null}},
     "y": {"datum": 19, "type": "quantitative", "axis": {"orient": "right", "values": [-3,-1,1,3,5,7,9,11,13,15,17], "tickSize": -3.5, "labels": false, "title": null}},
     "y2": {"datum": 16.08}
    }},
   {"data": {"values": [{}]},
    "mark": {"type": "rule", "color": "#333333", "strokeWidth": 1},
    "encoding": {
     "x": {"datum": 166.1, "type": "quantitative", "axis": null},
     "y": {"datum": 12.92, "type": "quantitative", "axis": null},
     "y2": {"datum": 9.86}
    }},
   {"data": {"values": [{}]},
    "mark": {"type": "point", "shape": "M-0.4,-1L0.4,-1L0,1Z", "filled": true, "color": "#000000", "size": 100, "opacity": 1},
    "encoding": {
     "x": {"datum": 166.1, "type": "quantitative", "axis": null},
     "y": {"datum": 16.08, "type": "quantitative", "axis": null}
    }},
   {"data": {"values": [{}]},
    "mark": {"type": "point", "shape": "M-0.4,1L0.4,1L0,-1Z", "filled": true, "color": "#000000", "size": 100, "opacity": 1},
    "encoding": {
     "x": {"datum": 166.1, "type": "quantitative", "axis": null},
     "y": {"datum": 12.92, "type": "quantitative", "axis": null}
    }},
   {"data": {"values": [{}]},
    "mark": {"type": "text", "align": "left", "baseline": "middle", "fontSize": 21, "font": "Liberation Sans", "color": "#000000"},
    "encoding": {
     "x": {"datum": 174.6, "type": "quantitative", "axis": null},
     "y": {"datum": 11.34, "type": "quantitative", "axis": null},
     "text": {"value": "Δα/α=10%"}
    }},
   {"data": {"values": [{}]},
    "mark": {"type": "point", "shape": "circle", "filled": false, "color": "#000000", "strokeWidth": 1, "size": 64, "opacity": 1},
    "encoding": {
     "x": {"datum": 123.4, "type": "quantitative", "axis": null},
     "y": {"datum": 4.75, "type": "quantitative", "axis": null}
    }},
   {"data": {"values": [{}]},
    "mark": {"type": "point", "shape": "triangle-up", "filled": false, "color": "#0000ff", "strokeWidth": 1, "size": 70, "opacity": 1},
    "encoding": {
     "x": {"datum": 123.4, "type": "quantitative", "axis": null},
     "y": {"datum": 3.48, "type": "quantitative", "axis": null}
    }},
   {"data": {"values": [{}]},
    "mark": {"type": "rule", "color": "#ff0000", "strokeWidth": 2.2},
    "encoding": {
     "x": {"datum": 114.5, "type": "quantitative", "axis": null},
     "x2": {"datum": 135.3},
     "y": {"datum": 2.1, "type": "quantitative", "axis": null}
    }},
   {"data": {"values": [{}]},
    "mark": {"type": "text", "align": "left", "baseline": "middle", "fontSize": 18.5, "font": "Liberation Sans", "color": "#000000"},
    "encoding": {
     "x": {"datum": 139.3, "type": "quantitative", "axis": null},
     "y": {"datum": 4.8, "type": "quantitative", "axis": null},
     "text": {"value": "Derivative of unbinned data"}
    }},
   {"data": {"values": [{}]},
    "mark": {"type": "text", "align": "left", "baseline": "middle", "fontSize": 18.5, "font": "Liberation Sans", "color": "#000000"},
    "encoding": {
     "x": {"datum": 139.3, "type": "quantitative", "axis": null},
     "y": {"datum": 3.49, "type": "quantitative", "axis": null},
     "text": {"value": "Derivate of binned data"}
    }},
   {"data": {"values": [{}]},
    "mark": {"type": "text", "align": "left", "baseline": "middle", "fontSize": 18.5, "font": "Liberation Sans", "color": "#000000"},
    "encoding": {
     "x": {"datum": 139.3, "type": "quantitative", "axis": null},
     "y": {"datum": 2.1, "type": "quantitative", "axis": null},
     "text": {"value": "Analytical derivate"}
    }}
  ]
 }
]
}
